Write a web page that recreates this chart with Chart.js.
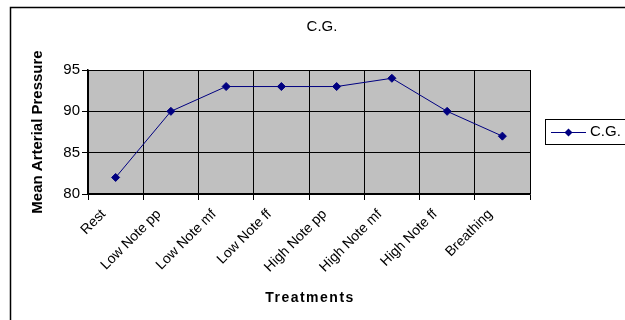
<!DOCTYPE html>
<html>
<head>
<meta charset="utf-8">
<script src="https://cdn.jsdelivr.net/npm/chart.js@4.4.0/dist/chart.umd.min.js"></script>
<style>
  body { margin: 0; background: #fff; }
  #wrap { width: 625px; height: 320px; }
</style>
</head>
<body>
<div id="wrap"><canvas id="cg-chart" width="625" height="320"></canvas></div>
<script>
// data
const treatments = ["Rest", "Low Note pp", "Low Note mf", "Low Note ff", "High Note pp", "High Note mf", "High Note ff", "Breathing"];
const cgValues = [82, 90, 93, 93, 93, 94, 90, 87];
const yTicks = [80, 85, 90, 95];
const chartTitle = "C.G.";
const xTitle = "Treatments";

const FONT = "'Liberation Sans', Arial, sans-serif";

// frame, plot background, title, x title and legend
const excelLook = {
  id: "excelLook",
  beforeDraw(chart) {
    const { ctx, chartArea: a } = chart;
    ctx.save();
    ctx.fillStyle = "#fff";
    ctx.fillRect(0, 0, chart.width, chart.height);
    ctx.fillStyle = "#c0c0c0";
    ctx.fillRect(a.left, a.top, a.right - a.left, a.bottom - a.top);
    ctx.restore();
  },
  afterDraw(chart) {
    const { ctx, chartArea: a } = chart;
    ctx.save();
    // outer border (only left and top are visible)
    ctx.strokeStyle = "#000";
    ctx.lineWidth = 1.5;
    ctx.beginPath();
    ctx.moveTo(10.5, 330);
    ctx.lineTo(10.5, 7.5);
    ctx.lineTo(640, 7.5);
    ctx.stroke();

    // title
    ctx.fillStyle = "#000";
    ctx.textBaseline = "middle";
    ctx.textAlign = "center";
    ctx.font = "15px " + FONT;
    ctx.fillText(chartTitle, 322, 27);

    // x axis title, spaced out
    ctx.font = "bold 14px " + FONT;
    ctx.letterSpacing = "1.5px";
    ctx.fillText(xTitle, (a.left + a.right) / 2 + 1, 298);
    ctx.letterSpacing = "0px";

    // legend
    ctx.lineWidth = 1;
    ctx.strokeRect(545.5, 119.5, 100, 25);
    ctx.strokeStyle = "#000080";
    ctx.beginPath();
    ctx.moveTo(551, 132.5);
    ctx.lineTo(586, 132.5);
    ctx.stroke();
    ctx.fillStyle = "#000080";
    ctx.beginPath();
    ctx.moveTo(568.5, 128.5);
    ctx.lineTo(572.5, 132.5);
    ctx.lineTo(568.5, 136.5);
    ctx.lineTo(564.5, 132.5);
    ctx.closePath();
    ctx.fill();
    ctx.fillStyle = "#000";
    ctx.textAlign = "left";
    ctx.font = "15px " + FONT;
    ctx.fillText(chart.data.datasets[0].label, 590, 132);
    ctx.restore();
  },
};

new Chart(document.getElementById("cg-chart"), {
  type: "line",
  data: {
    labels: treatments,
    datasets: [
      {
        label: "C.G.",
        data: cgValues,
        borderColor: "#000080",
        backgroundColor: "#000080",
        borderWidth: 1,
        pointStyle: "rectRot",
        pointRadius: 4,
        pointHoverRadius: 4,
        tension: 0,
      },
    ],
  },
  options: {
    responsive: false,
    animation: false,
    events: [],
    layout: { padding: { left: 26, right: 95, top: 70, bottom: 0 } },
    plugins: {
      legend: { display: false },
      tooltip: { enabled: false },
      title: { display: false },
    },
    scales: {
      x: {
        offset: true,
        grid: { offset: true, color: "#000", lineWidth: 1, tickLength: 6, drawTicks: true },
        border: { color: "#000", width: 1.5 },
        ticks: {
          color: "#000",
          font: { family: FONT, size: 14 },
          maxRotation: 45,
          minRotation: 45,
          padding: 6,
          labelOffset: -12,
          autoSkip: false,
        },
        afterFit(scale) {
          scale.height = 126;
        },
      },
      y: {
        min: 80,
        max: 95,
        afterBuildTicks(scale) {
          scale.ticks = yTicks.map((v) => ({ value: v }));
        },
        grid: { color: "#000", lineWidth: 1, tickLength: 6 },
        border: { color: "#000", width: 1.5 },
        ticks: {
          color: "#000",
          font: { family: FONT, size: 15 },
          padding: 2,
        },
        title: {
          display: true,
          text: "Mean Arterial Pressure",
          color: "#000",
          font: { family: FONT, size: 15, weight: "bold", lineHeight: 1.2 },
          padding: { top: 3, bottom: 0 },
        },
        afterFit(scale) {
          scale.width = 62;
        },
      },
    },
  },
  plugins: [excelLook],
});
</script>
</body>
</html>
